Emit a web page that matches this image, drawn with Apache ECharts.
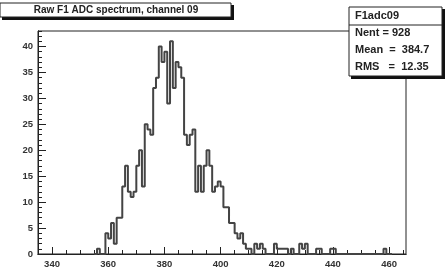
<!DOCTYPE html>
<html>
<head>
<meta charset="utf-8">
<script src="https://cdn.jsdelivr.net/npm/echarts@6/dist/echarts.min.js"></script>
<style>
  html, body { margin: 0; padding: 0; background: #fff; }
  #chart { width: 446px; height: 270px; }
</style>
</head>
<body>
<div id="chart"></div>
<script>
// histogram: one entry per ADC channel, starting at firstChannel
const firstChannel = 355;
const counts = [
  0, 1, 0, 0, 4, 3, 6, 2, 7, 7,          // 355-364
  13, 17, 12, 11, 12, 17, 20, 13, 25, 24, // 365-374
  23, 32, 34, 40, 37, 39, 29, 41, 32, 37, // 375-384
  36, 34, 23, 21, 23, 24, 12, 17, 12, 17, // 385-394
  20, 17, 12, 13, 14, 13, 9, 9, 6, 6,     // 395-404
  4, 3, 4, 2, 1, 1, 0, 2, 1, 2,           // 405-414
  1, 0, 0, 0, 2, 1, 1, 1, 1, 0,           // 415-424
  1, 0, 0, 2, 1, 2, 0, 0, 0, 1,           // 425-434
  1, 0, 0, 0, 1, 1, 0, 0, 0, 0,           // 435-444
  0, 0, 0, 0, 0, 0, 0, 0, 0, 0,           // 445-454
  0, 0, 0, 1, 0, 0                        // 455-460
];

const xMajorTicks = [340, 360, 380, 400, 420, 440, 460];
const xMinorTicks = [335, 340, 345, 350, 355, 360, 365, 370, 375, 380, 385, 390, 395, 400,
  405, 410, 415, 420, 425, 430, 435, 440, 445, 450, 455, 460, 465];
const yMajorTicks = [0, 5, 10, 15, 20, 25, 30, 35, 40];
const yMinorTicks = [0, 1, 2, 3, 4, 5, 6, 7, 8, 9, 10, 11, 12, 13, 14, 15, 16, 17, 18, 19, 20,
  21, 22, 23, 24, 25, 26, 27, 28, 29, 30, 31, 32, 33, 34, 35, 36, 37, 38, 39, 40, 41, 42, 43];

const titleText = 'Raw F1 ADC spectrum, channel 09';
const statsLines = ['F1adc09', 'Nent = 928', 'Mean  =  384.7', 'RMS   =  12.35'];

// step outline: left edge of each bin with its count, then close at the last right edge
const points = counts.map((c, i) => [firstChannel + i, c]);
points.push([firstChannel + counts.length, 0]);

const font = 'Liberation Sans, Arial, sans-serif';
const ink = '#222';

const dom = document.getElementById('chart');
const myChart = echarts.init(dom, null, { renderer: 'canvas' });

function xAxisCfg(ticks, len, labels) {
  return {
    type: 'value', min: 335, max: 466, position: 'bottom',
    axisLine: { show: true, lineStyle: { color: ink, width: 1 } },
    axisTick: { show: true, inside: true, length: len, customValues: ticks,
      lineStyle: { color: ink, width: 1 } },
    axisLabel: { show: labels, customValues: xMajorTicks, color: '#333',
      fontFamily: font, fontWeight: 'bold', fontSize: 9.5, margin: 5 },
    splitLine: { show: false }
  };
}
function yAxisCfg(ticks, len, labels) {
  return {
    type: 'value', min: 0, max: 43, position: 'left',
    axisLine: { show: true, lineStyle: { color: ink, width: 1 } },
    axisTick: { show: true, inside: true, length: len, customValues: ticks,
      lineStyle: { color: ink, width: 1 } },
    axisLabel: { show: labels, customValues: yMajorTicks, color: '#333',
      fontFamily: font, fontWeight: 'bold', fontSize: 9.5, margin: 5 },
    splitLine: { show: false }
  };
}

const option = {
  animation: false,
  backgroundColor: '#fff',
  grid: { left: 38, top: 31, right: 40, bottom: 16, show: true,
    borderColor: ink, borderWidth: 1, backgroundColor: '#fff' },
  xAxis: [xAxisCfg(xMajorTicks, 7, true), xAxisCfg(xMinorTicks, 4, false)],
  yAxis: [yAxisCfg(yMajorTicks, 8, true), yAxisCfg(yMinorTicks, 4, false)],
  series: [{
    type: 'line',
    step: 'end',
    data: points,
    showSymbol: false,
    lineStyle: { color: '#444', width: 2 },
    silent: true
  }],
  graphic: [
    // title box with drop shadow
    { type: 'rect', shape: { x: 2, y: 5, width: 232, height: 15 }, style: { fill: '#111' }, z: 10 },
    { type: 'rect', shape: { x: 0, y: 3, width: 231, height: 14 },
      style: { fill: '#fff', stroke: ink, lineWidth: 1 }, z: 11 },
    { type: 'text', x: 116, y: 10, z: 12,
      style: { text: titleText, fill: ink, font: 'bold 10px ' + font,
        textAlign: 'center', textVerticalAlign: 'middle' } },
    // stats box with drop shadow
    { type: 'rect', shape: { x: 351, y: 9, width: 94, height: 70 }, style: { fill: '#111' }, z: 10 },
    { type: 'rect', shape: { x: 349, y: 7, width: 93, height: 69 },
      style: { fill: '#fff', stroke: ink, lineWidth: 1 }, z: 11 },
    { type: 'line', shape: { x1: 349, y1: 25, x2: 442, y2: 25 },
      style: { stroke: ink, lineWidth: 1 }, z: 12 }
  ].concat(statsLines.map((t, i) => ({
    type: 'text', x: 355, y: 16 + i * 17, z: 12,
    style: { text: t, fill: ink, font: 'bold 11px ' + font, textVerticalAlign: 'middle' }
  })))
};

myChart.setOption(option);
</script>
</body>
</html>
